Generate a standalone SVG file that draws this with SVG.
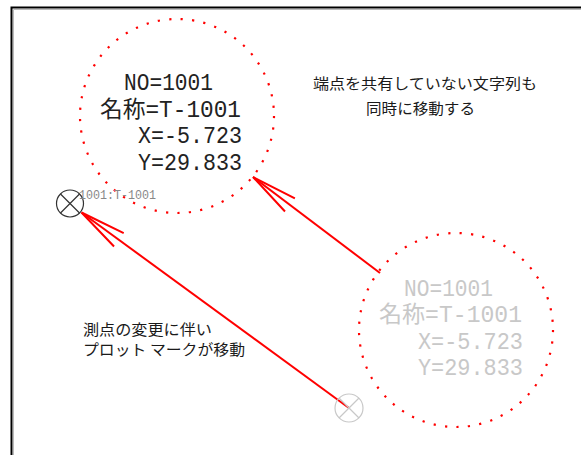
<svg xmlns="http://www.w3.org/2000/svg" width="581" height="455" viewBox="0 0 581 455">
<style>
.dot{fill:none;stroke:#ff0000;stroke-width:2.2;stroke-dasharray:2.2 9.3}
.val{font-family:"Liberation Mono","DejaVu Sans Mono","Noto Sans CJK JP",monospace;font-size:23px}
.dark{fill:#222}
.light{fill:#c8c8c8}
.note{font-family:"Noto Sans CJK JP","Noto Sans",sans-serif;font-size:15px;fill:#1a1a1a}
.conn{stroke:#ff0000;stroke-width:2;fill:none}
</style>
<defs>
<marker id="barb" markerUnits="userSpaceOnUse" markerWidth="60" markerHeight="30" refX="0" refY="0" orient="auto" style="overflow:visible">
<path d="M0,0 L-46.3,-8.2 M0,0 L-46.3,8.2" stroke="#ff0000" stroke-width="2" fill="none"/>
</marker>
</defs>
<rect width="581" height="455" fill="#fff"/>
<g id="frame">
<path d="M11.5,455 V7.5 H581" fill="none" stroke="#000" stroke-width="2"/>
<path d="M13.5,455 V9.5 H581" fill="none" stroke="#bbb" stroke-width="1"/>
</g>
<g id="connectors">
<line class="conn" x1="380" y1="273" x2="253" y2="177" marker-end="url(#barb)"/>
<line class="conn" x1="349" y1="408" x2="81.5" y2="212.5" marker-end="url(#barb)"/>
</g>
<g id="label-new">
<circle class="dot" cx="177" cy="116" r="97"/>
<text class="val dark" x="124" y="90" textLength="89" lengthAdjust="spacingAndGlyphs">NO=1001</text>
<text class="val dark" x="100" y="117" textLength="141" lengthAdjust="spacingAndGlyphs">名称=T-1001</text>
<text class="val dark" x="138" y="143" textLength="104" lengthAdjust="spacingAndGlyphs">X=-5.723</text>
<text class="val dark" x="138" y="170" textLength="104" lengthAdjust="spacingAndGlyphs">Y=29.833</text>
</g>
<g id="label-old">
<circle class="dot" cx="456" cy="330" r="97"/>
<text class="val light" x="404" y="296" textLength="89" lengthAdjust="spacingAndGlyphs">NO=1001</text>
<text class="val light" x="379" y="322" textLength="143" lengthAdjust="spacingAndGlyphs">名称=T-1001</text>
<text class="val light" x="418" y="349" textLength="105" lengthAdjust="spacingAndGlyphs">X=-5.723</text>
<text class="val light" x="418" y="375" textLength="105" lengthAdjust="spacingAndGlyphs">Y=29.833</text>
</g>
<g id="marker-new" fill="none" stroke="#333" stroke-width="1.2">
<circle cx="70" cy="203.5" r="13.5"/>
<path d="M60.5,194 L79.5,213 M79.5,194 L60.5,213"/>
</g>
<g id="marker-old" fill="none" stroke="#c8c8c8" stroke-width="1.2">
<circle cx="349" cy="408" r="14"/>
<path d="M339,398 L359,418 M359,398 L339,418"/>
</g>
<g id="point-label">
<text x="79" y="199" font-family="'Liberation Mono','DejaVu Sans Mono',monospace" font-size="13" fill="#888" textLength="77" lengthAdjust="spacingAndGlyphs">1001:T-1001</text>
</g>
<g id="note-text">
<text class="note" x="313" y="89" textLength="224" lengthAdjust="spacingAndGlyphs">端点を共有していない文字列も</text>
<text class="note" x="366" y="114" textLength="109" lengthAdjust="spacingAndGlyphs">同時に移動する</text>
</g>
<g id="note-marker">
<text class="note" x="83" y="335" textLength="129" lengthAdjust="spacingAndGlyphs">測点の変更に伴い</text>
<text class="note" x="83" y="355" textLength="162" lengthAdjust="spacingAndGlyphs">プロット マークが移動</text>
</g>
</svg>
